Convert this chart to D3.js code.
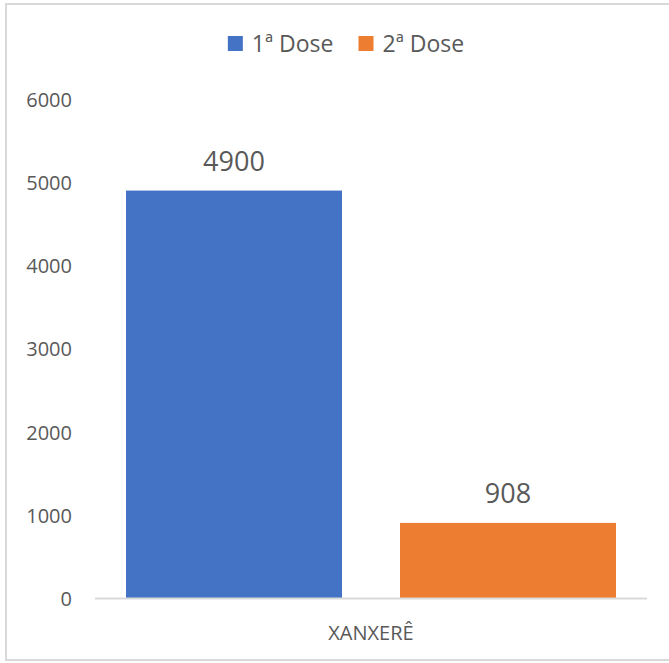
<!DOCTYPE html>
<html><head><meta charset="utf-8">
<script src="https://cdn.jsdelivr.net/npm/d3@7"></script>
<style>body{margin:0;background:#fff}svg{display:block}text{font-family:"Open Sans",sans-serif;fill:#595959}</style>
</head><body>
<svg id="c" width="669" height="663"></svg>
<script>
const categories = ["XANXERÊ"];
const seriesNames = ["1ª Dose", "2ª Dose"];
const seriesValues = [[4900], [908]];
const yTicks = [0, 1000, 2000, 3000, 4000, 5000, 6000];
const colors = ["#4472C4", "#ED7D31"];

(function () {
const svg = d3.select("#c");
svg.append("rect").attr("x", 6).attr("y", 4).attr("width", 700).attr("height", 656)
  .attr("fill", "#fff").attr("stroke", "#d9d9d9").attr("stroke-width", 2);

const pLeft = 95, pRight = 647, pTop = 99, pBottom = 598.5;
const y = d3.scaleLinear().domain([0, 6000]).range([pBottom, pTop]);
const x0 = d3.scaleBand().domain(categories).range([pLeft, pRight]).paddingInner(0).paddingOuter(0.0633);
const x1 = d3.scaleBand().domain(seriesNames).range([0, x0.bandwidth()]).paddingInner(0.2117).paddingOuter(0);

const yAxis = d3.axisLeft(y).tickValues(yTicks).tickSize(0).tickPadding(0).tickFormat(d3.format("d"));
const ga = svg.append("g").attr("transform", "translate(72,0)").call(yAxis);
ga.select(".domain").remove();
ga.selectAll("text").style("font-size", "20px").attr("fill", "#595959").attr("dy", "0.35em");

const data = [];
categories.forEach((c, i) => seriesNames.forEach((s, j) => data.push({c, s, v: seriesValues[j][i], j})));
svg.selectAll("rect.bar").data(data).enter().append("rect").attr("class", "bar")
  .attr("x", d => x0(d.c) + x1(d.s)).attr("width", x1.bandwidth())
  .attr("y", d => y(d.v)).attr("height", d => y(0) - y(d.v))
  .attr("fill", d => colors[d.j]);

svg.selectAll("text.lbl").data(data).enter().append("text").attr("class", "lbl")
  .attr("x", d => x0(d.c) + x1(d.s) + x1.bandwidth() / 2).attr("y", d => y(d.v) - 20)
  .attr("text-anchor", "middle").style("font-size", "27px").text(d => d.v);

const xAxis = d3.axisBottom(x0).tickSize(0).tickPadding(0);
const gx = svg.append("g").attr("transform", `translate(0,${pBottom})`).call(xAxis);
gx.select(".domain").attr("stroke", "#d9d9d9").attr("stroke-width", 2).attr("d", `M${pLeft},0H${pRight}`);
gx.selectAll("text").style("font-size", "20px").attr("fill", "#595959").attr("y", 34).attr("dy", "0.35em");

const lg = svg.append("g");
let cx = 0;
seriesNames.forEach((s, j) => {
  const g = lg.append("g");
  g.append("rect").attr("x", 0).attr("y", -8).attr("width", 15).attr("height", 15).attr("fill", colors[j]);
  const t = g.append("text").attr("x", 24).attr("y", 0).attr("dy", "0.35em").style("font-size", "23px").text(s);
  const w = 24 + t.node().getComputedTextLength();
  g.attr("transform", `translate(${cx},44)`);
  cx += w + 25;
});
const total = cx - 25;
lg.attr("transform", `translate(${(224 + 468) / 2 - total / 2},0)`);
})();
</script>
</body></html>
